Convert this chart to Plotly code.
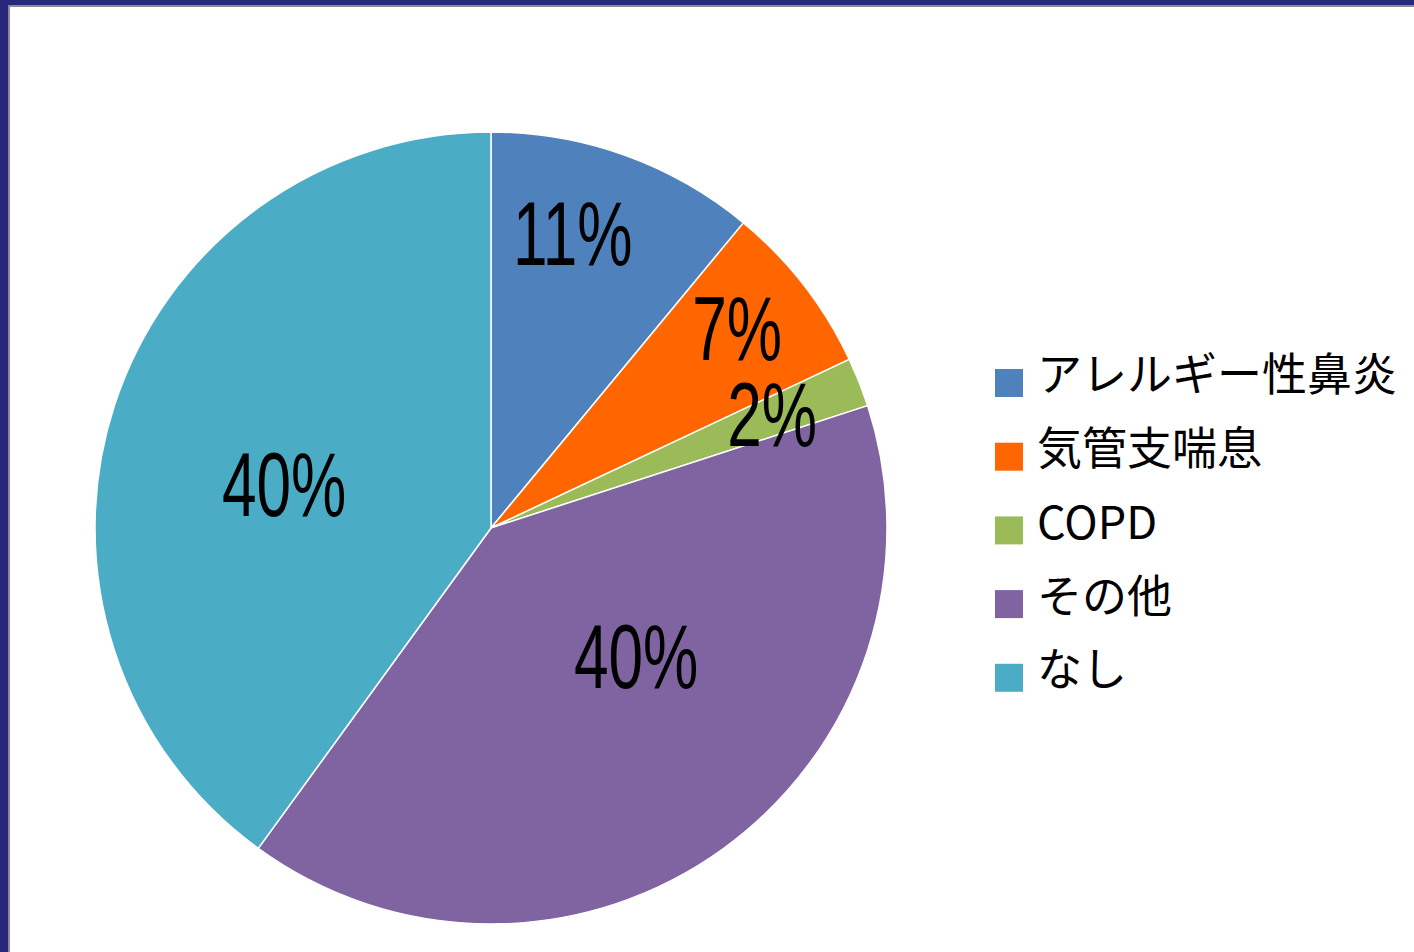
import numpy as np
import plotly.graph_objects as go

W, H = 1414, 952

# data
categories = ["アレルギー性鼻炎", "気管支喘息", "COPD", "その他", "なし"]
shares = [11, 7, 2, 40, 40]
colors = ["#4f81bd", "#ff6600", "#9bbb59", "#8064a2", "#4bacc6"]

# label placement: fraction of radius and angular nudge (degrees) per slice
label_radius = [0.77, 0.80, 0.765, 0.49, 0.535]
label_nudge = [-4.2, -1.2, -0.4, -12.3, -6.3]

# pie geometry in pixels
cx, cy, R = 491, 528, 396


def px_x(x):
    return x / W


def px_y(y):
    return 1 - y / H


fig = go.Figure(
    go.Pie(
        labels=categories,
        values=shares,
        sort=False,
        direction="clockwise",
        rotation=0,
        marker=dict(colors=colors, line=dict(color="white", width=1.5)),
        textinfo="none",
        hoverinfo="label+percent",
        showlegend=False,
        domain=dict(x=[px_x(cx - R), px_x(cx + R)], y=[px_y(cy + R), px_y(cy - R)]),
    )
)

# percentage labels at slice mid-angles
total = float(sum(shares))
cum = np.cumsum([0] + shares)
annotations = []
for i, v in enumerate(shares):
    mid = (cum[i] + v / 2) / total * 360 + label_nudge[i]
    r = label_radius[i] * R
    x = cx + r * np.sin(np.radians(mid))
    y = cy - r * np.cos(np.radians(mid))
    annotations.append(dict(
        x=px_x(x), y=px_y(y), xref="paper", yref="paper",
        text=f"{round(v / total * 100)}%", showarrow=False,
        xanchor="center", yanchor="middle",
        font=dict(family="Liberation Sans, Arial, sans-serif", size=90, color="black"),
    ))

# legend: colour squares and category names
shapes = []
leg_x, leg_top, leg_step, box = 995, 369, 73.7, 28
for i, (name, col) in enumerate(zip(categories, colors)):
    top = leg_top + i * leg_step
    shapes.append(dict(type="rect", xref="paper", yref="paper",
                       x0=px_x(leg_x), x1=px_x(leg_x + box),
                       y0=px_y(top + box), y1=px_y(top),
                       fillcolor=col, line=dict(width=0)))
    annotations.append(dict(
        x=px_x(1035), y=px_y(top + box / 2 - 11), xref="paper", yref="paper",
        text=name, showarrow=False, xanchor="left", yanchor="middle",
        font=dict(family="Noto Sans CJK JP, sans-serif", size=45, color="black"),
    ))

# slide frame along the top and left edges
navy, gray = "#27287a", "#8c8c8c"
frame = [
    (0, 0, W, 5, navy),
    (0, 0, 8, H, navy),
    (8, 5, W, 7, gray),
    (8, 5, 10, H, gray),
]
for x0, y0, x1, y1, c in frame:
    shapes.append(dict(type="rect", xref="paper", yref="paper",
                       x0=px_x(x0), x1=px_x(x1), y0=px_y(y1), y1=px_y(y0),
                       fillcolor=c, line=dict(width=0), layer="above"))

fig.update_layout(
    width=W, height=H,
    margin=dict(l=0, r=0, t=0, b=0),
    paper_bgcolor="white",
    plot_bgcolor="white",
    shapes=shapes,
    annotations=annotations,
)

# condensed look for the percentage labels: squeeze glyphs horizontally
condense_js = """
var gd = document.getElementById('{plot_id}');
function condense() {
  gd.querySelectorAll('.annotation-text').forEach(function (t) {
    if (!/%$/.test(t.textContent)) return;
    if (!t.getAttribute('data-w')) t.setAttribute('data-w', t.getComputedTextLength());
    t.setAttribute('textLength', parseFloat(t.getAttribute('data-w')) * 0.69);
    t.setAttribute('lengthAdjust', 'spacingAndGlyphs');
  });
}
condense();
gd.on('plotly_afterplot', condense);
"""

fig.write_html("out.html", post_script=condense_js)
